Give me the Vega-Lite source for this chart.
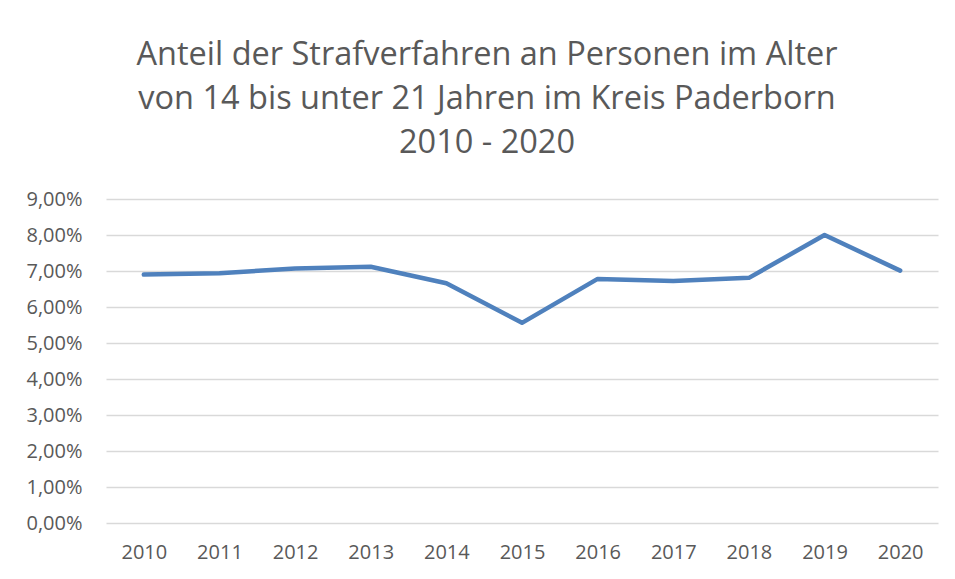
{
  "$schema": "https://vega.github.io/schema/vega-lite/v6.json",
  "width": 832,
  "height": 324,
  "autosize": "none",
  "padding": {"left": 106, "top": 199, "right": 17, "bottom": 56},
  "background": "white",
  "config": {
    "locale": {"number": {"decimal": ",", "thousands": ".", "grouping": [3], "currency": ["", " €"]}},
    "view": {"stroke": null},
    "font": "Open Sans"
  },
  "title": {
    "text": ["Anteil der Strafverfahren an Personen im Alter", "von 14 bis unter 21 Jahren im Kreis Paderborn", "2010 - 2020"],
    "fontSize": 32.5,
    "fontWeight": "normal",
    "font": "Open Sans",
    "color": "#595959",
    "anchor": "middle",
    "frame": "group",
    "dx": -35,
    "lineHeight": 44,
    "offset": 30
  },
  "data": {
    "values": [
      {"Jahr": "2010", "Anteil": 0.0690},
      {"Jahr": "2011", "Anteil": 0.0694},
      {"Jahr": "2012", "Anteil": 0.0707},
      {"Jahr": "2013", "Anteil": 0.0712},
      {"Jahr": "2014", "Anteil": 0.0666},
      {"Jahr": "2015", "Anteil": 0.0556},
      {"Jahr": "2016", "Anteil": 0.0678},
      {"Jahr": "2017", "Anteil": 0.0672},
      {"Jahr": "2018", "Anteil": 0.0681},
      {"Jahr": "2019", "Anteil": 0.0800},
      {"Jahr": "2020", "Anteil": 0.0701}
    ]
  },
  "mark": {"type": "line", "color": "#4F81BD", "strokeWidth": 4.5, "strokeCap": "round", "strokeJoin": "round"},
  "encoding": {
    "x": {
      "field": "Jahr",
      "type": "ordinal",
      "scale": {"type": "point", "padding": 0.5},
      "axis": {
        "title": null,
        "labelAngle": 0,
        "labelFontSize": 20,
        "labelColor": "#595959",
        "labelFont": "Open Sans",
        "labelPadding": 19,
        "ticks": false,
        "domain": false,
        "grid": false
      }
    },
    "y": {
      "field": "Anteil",
      "type": "quantitative",
      "scale": {"domain": [0, 0.09], "nice": false, "zero": true},
      "axis": {
        "title": null,
        "values": [0, 0.01, 0.02, 0.03, 0.04, 0.05, 0.06, 0.07, 0.08, 0.09],
        "format": ".2%",
        "labelFontSize": 20,
        "labelColor": "#595959",
        "labelFont": "Open Sans",
        "labelPadding": 24,
        "ticks": false,
        "domain": false,
        "grid": true,
        "gridColor": "#D9D9D9",
        "gridWidth": 1.5
      }
    }
  }
}
